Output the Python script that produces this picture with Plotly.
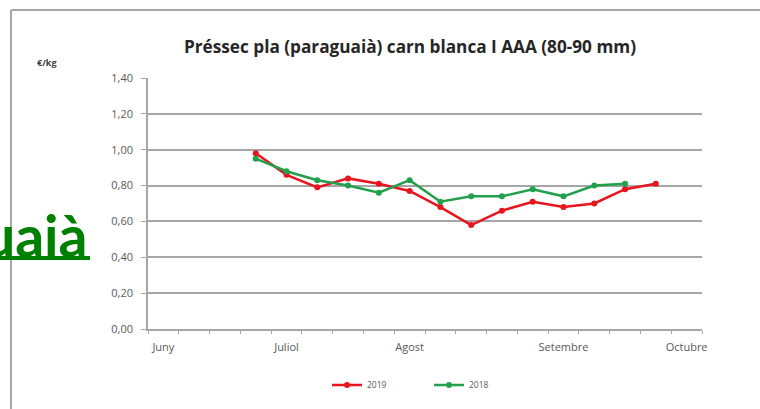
import plotly.graph_objects as go

# ---- data ----
week_index = list(range(18))
month_labels = ["Juny", "Juliol", "Agost", "Setembre", "Octubre"]
month_label_weeks = [0, 4, 8, 13, 17]

weeks_2019 = list(range(3, 17))
prices_2019 = [0.98, 0.86, 0.79, 0.84, 0.81, 0.77, 0.68, 0.58, 0.66, 0.71, 0.68, 0.70, 0.78, 0.81]

weeks_2018 = list(range(3, 16))
prices_2018 = [0.95, 0.88, 0.83, 0.80, 0.76, 0.83, 0.71, 0.74, 0.74, 0.78, 0.74, 0.80, 0.81]

y_ticks = [0, 0.2, 0.4, 0.6, 0.8, 1.0, 1.2, 1.4]

W, H = 760, 409
L, R, T, B = 148, 702, 78, 329


def px(x):
    return (x - L) / (R - L)


def py(y):
    return (B - y) / (B - T)


FONT = "Open Sans, Lato, sans-serif"

fig = go.Figure()
fig.add_trace(go.Scatter(x=weeks_2019, y=prices_2019, name="2019", mode="lines+markers",
                         line=dict(color="#e8141e", width=2.5),
                         marker=dict(color="#e8141e", size=6)))
fig.add_trace(go.Scatter(x=weeks_2018, y=prices_2018, name="2018", mode="lines+markers",
                         line=dict(color="#22a04b", width=2.5),
                         marker=dict(color="#22a04b", size=6)))

fig.update_layout(
    width=W, height=H,
    margin=dict(l=L, r=W - R, t=T, b=H - B, pad=0),
    paper_bgcolor="white", plot_bgcolor="white",
    separators=",.",
    font=dict(family=FONT, color="#595959", size=9),
    title=dict(text="<b>Préssec pla (paraguaià) carn blanca I AAA (80-90 mm)</b>",
               x=px(410), xref="paper", xanchor="center",
               y=1 - 47 / H, yref="container", yanchor="middle",
               font=dict(size=17.2, color="#262626", family=FONT)),
    showlegend=True,
    legend=dict(orientation="h", xref="container", yref="container",
                x=327 / W, xanchor="left", y=1 - 385 / H, yanchor="middle",
                font=dict(size=8.5, color="#595959"),
                entrywidth=57, entrywidthmode="pixels",
                bgcolor="rgba(0,0,0,0)", itemwidth=30),
)

fig.update_xaxes(
    range=[-0.5, 17.5], showgrid=False, zeroline=False,
    showline=True, linecolor="#a6a6a6", linewidth=1.5,
    tickmode="array", tickvals=month_label_weeks, ticktext=month_labels,
    ticks="", ticklabelstandoff=7,
    tickfont=dict(size=11, color="#595959"),
    minor=dict(tickmode="array", tickvals=[i - 0.5 for i in range(19)],
               ticks="outside", ticklen=3, tickcolor="#a6a6a6", tickwidth=1,
               showgrid=False),
)
fig.update_yaxes(
    range=[0, 1.4], tickmode="array", tickvals=y_ticks, tickformat=".2f",
    showgrid=True, gridcolor="#a6a6a6", gridwidth=1.5, zeroline=False,
    showline=True, linecolor="#a6a6a6", linewidth=1.5,
    ticks="outside", ticklen=5, tickcolor="#a6a6a6", tickwidth=1,
    ticklabelstandoff=6,
    tickfont=dict(size=11, color="#595959"),
)

# frame of embedded chart
fig.add_shape(type="line", xref="paper", yref="paper",
              x0=px(11), x1=px(W + 5), y0=py(10), y1=py(10),
              line=dict(color="#a6a6a6", width=2))
fig.add_shape(type="line", xref="paper", yref="paper",
              x0=px(11), x1=px(11), y0=py(10), y1=py(H + 5),
              line=dict(color="#a6a6a6", width=2))

# unit label
fig.add_annotation(text="<b>€/kg</b>", xref="paper", yref="paper",
                   x=px(35), y=py(54), showarrow=False,
                   font=dict(size=9, color="#404040", family=FONT))

# overlapping page text (green, underlined)
fig.add_annotation(text="<b>uaià</b>", xref="paper", yref="paper",
                   x=px(89), y=py(252), xanchor="right", yanchor="bottom",
                   showarrow=False, yshift=-19,
                   font=dict(size=57, color="#008000", family="Lato, sans-serif"))
fig.add_shape(type="line", xref="paper", yref="paper",
              x0=px(-5), x1=px(90), y0=py(258), y1=py(258),
              line=dict(color="#008000", width=4))

fig.write_html("out.html",
               config={"displayModeBar": False},
               post_script="document.body.style.margin='0';document.body.style.padding='0';")
